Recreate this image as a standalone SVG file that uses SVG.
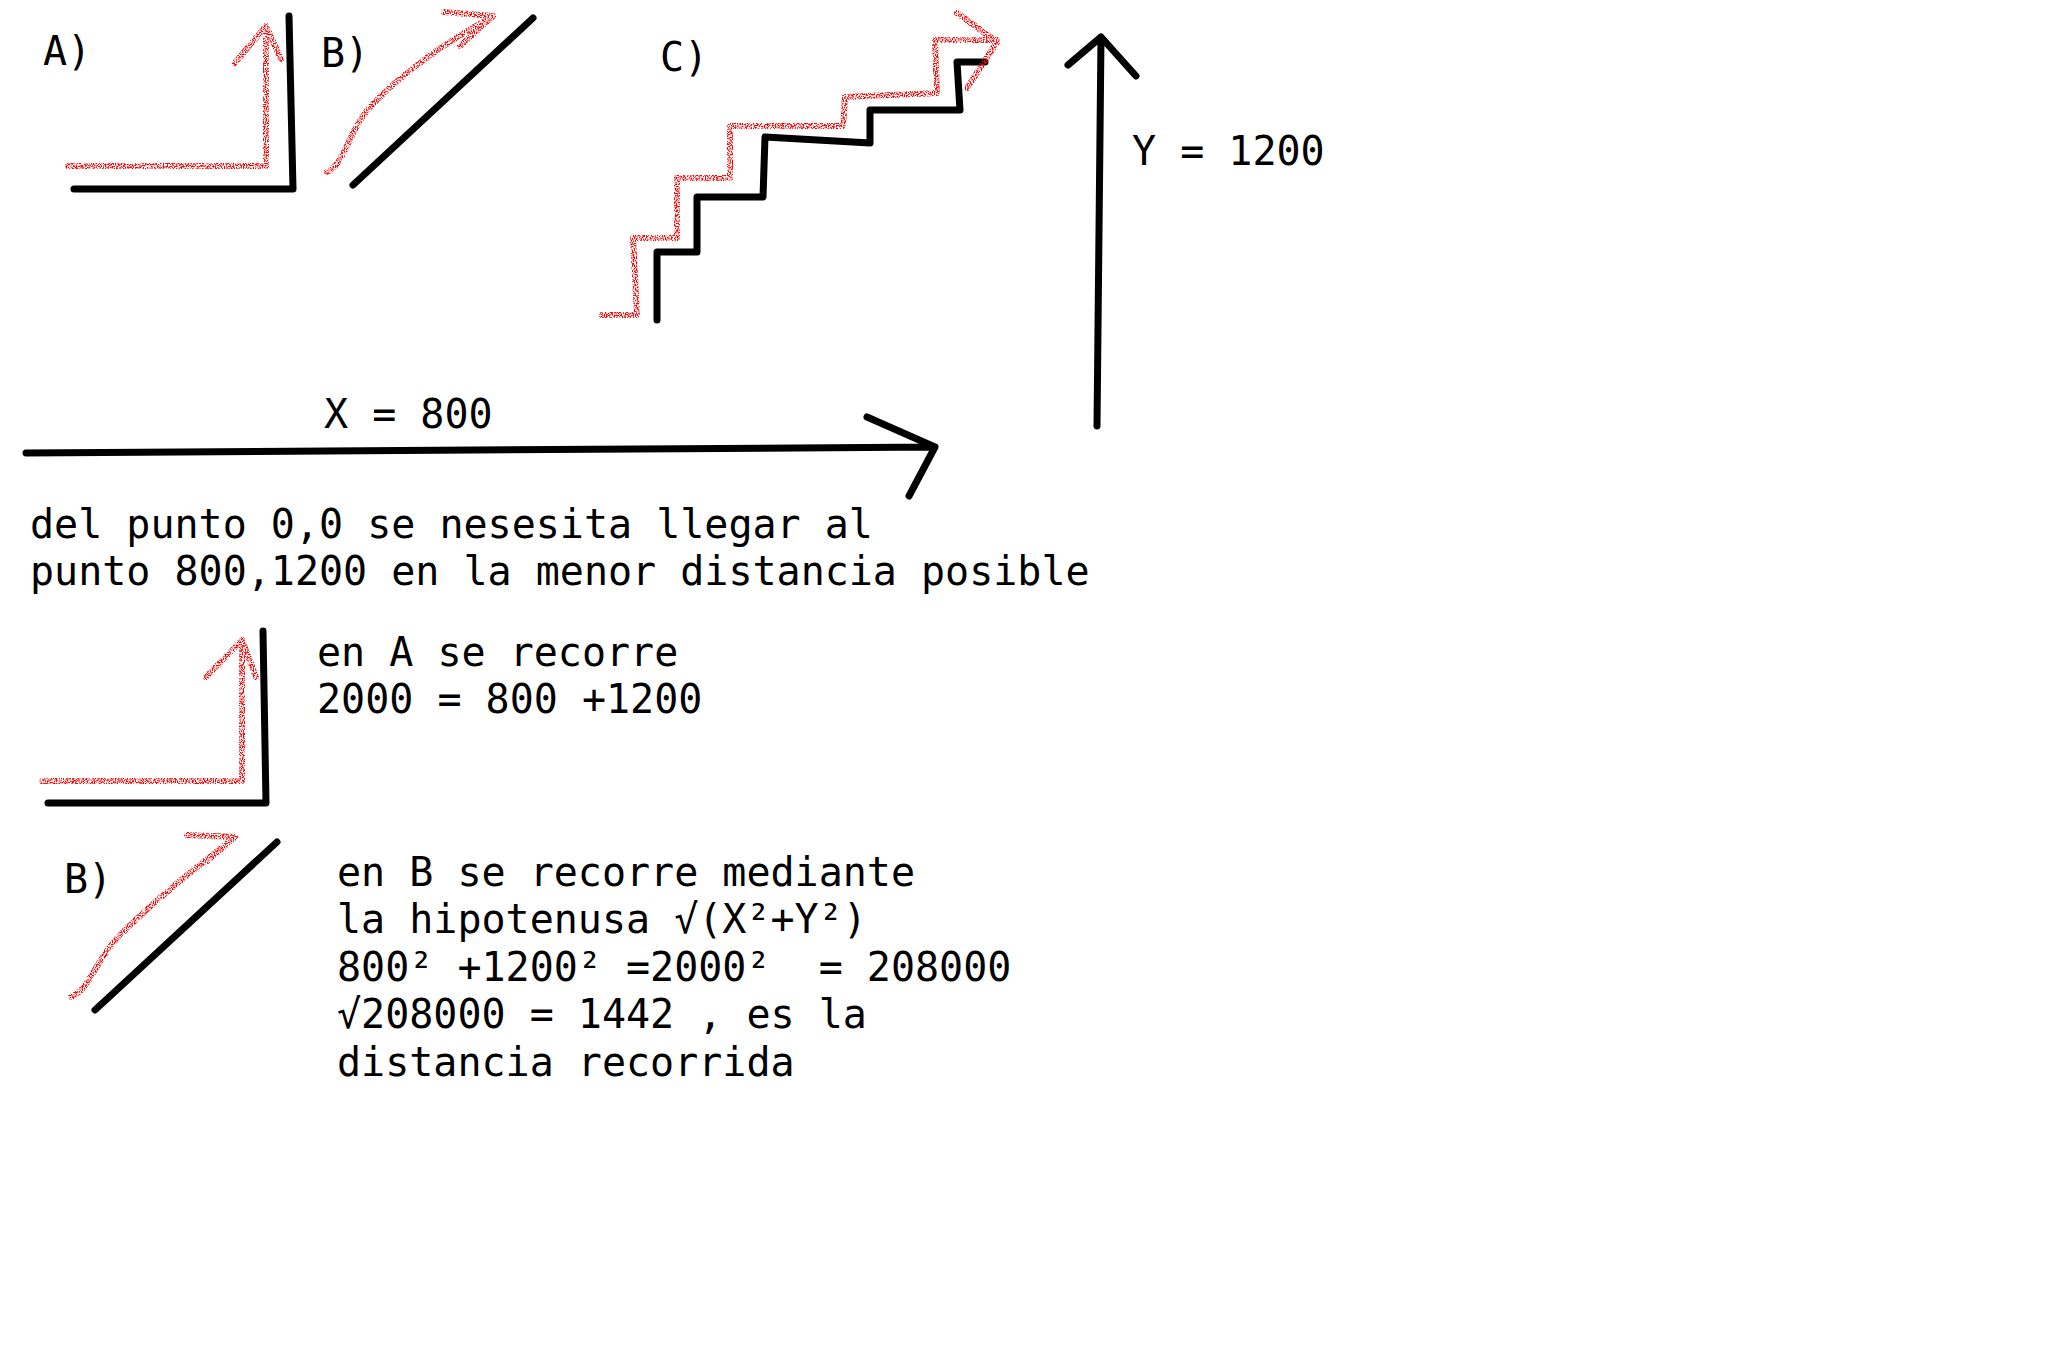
<svg xmlns="http://www.w3.org/2000/svg" width="2048" height="1369" viewBox="0 0 2048 1369">
<style>
.k{fill:none;stroke:#000;stroke-width:7;stroke-linecap:round;stroke-linejoin:round}
.r{fill:none;stroke:#f00;stroke-width:6;stroke-linecap:round;stroke-linejoin:round;filter:url(#spray)}
text{font-family:"DejaVu Sans Mono","Liberation Mono",monospace;font-size:40px;fill:#000}
</style>
<defs>
<filter id="spray" x="-10%" y="-10%" width="120%" height="120%">
<feTurbulence type="fractalNoise" baseFrequency="0.9" numOctaves="1" seed="3" result="n"/>
<feColorMatrix in="n" type="matrix" values="0 0 0 0 0 0 0 0 0 0 0 0 0 0 0 6 0 0 0 -2.6" result="m"/>
<feComposite in="SourceGraphic" in2="m" operator="in"/>
</filter>
</defs>
<rect width="2048" height="1369" fill="#fff"/>
<g id="labels">
<text x="43" y="65">A)</text>
<text x="321" y="67">B)</text>
<text x="660" y="71">C)</text>
<text x="1132" y="165">Y = 1200</text>
<text x="324" y="428">X = 800</text>
<text x="30" y="538">del punto 0,0 se nesesita llegar al</text>
<text x="30" y="585">punto 800,1200 en la menor distancia posible</text>
<text x="317" y="666">en A se recorre</text>
<text x="317" y="713">2000 = 800 +1200</text>
<text x="64" y="893">B)</text>
<text x="337" y="886">en B se recorre mediante</text>
<text x="337" y="933">la hipotenusa √(X²+Y²)</text>
<text x="337" y="981">800² +1200² =2000²&#160; = 208000</text>
<text x="337" y="1028">√208000 = 1442 , es la</text>
<text x="337" y="1076">distancia recorrida</text>
</g>
<g id="figA">
<path class="k" d="M74 189 H293 L289 16"/>
<path class="r" d="M68 166 H266 V26 M235 63 L266 26 L281 59"/>
</g>
<g id="figB">
<path class="k" d="M353 185 L533 18"/>
<path class="r" d="M327 172 C345 165 348 130 372 105 C405 70 450 40 493 16 M444 12 L493 16 L460 46"/>
</g>
<g id="figC">
<path class="k" d="M657 320 V252 H697 V197 H763 L765 137 L870 143 V110 H960 L957 62 H985"/>
<path class="r" d="M602 315 H637 L633 238 H677 V178 H730 V126 H843 L845 97 L937 93 L935 40 H997 M957 13 L997 42 L967 88"/>
</g>
<g id="axisY">
<path class="k" d="M1097 426 L1101 37 M1068 65 L1101 37 L1136 76"/>
</g>
<g id="axisX">
<path class="k" d="M26 453 L935 447 M867 417 L935 447 L909 496"/>
</g>
<g id="figA2">
<path class="k" d="M263 631 L266 803 H48"/>
<path class="r" d="M42 781 H242 V640 M206 677 L242 640 L256 677"/>
</g>
<g id="figB2">
<path class="k" d="M95 1010 L277 842"/>
<path class="r" d="M71 997 C90 990 95 960 120 935 C160 895 200 865 235 837 M187 835 L235 837 L206 862"/>
</g>
</svg>
